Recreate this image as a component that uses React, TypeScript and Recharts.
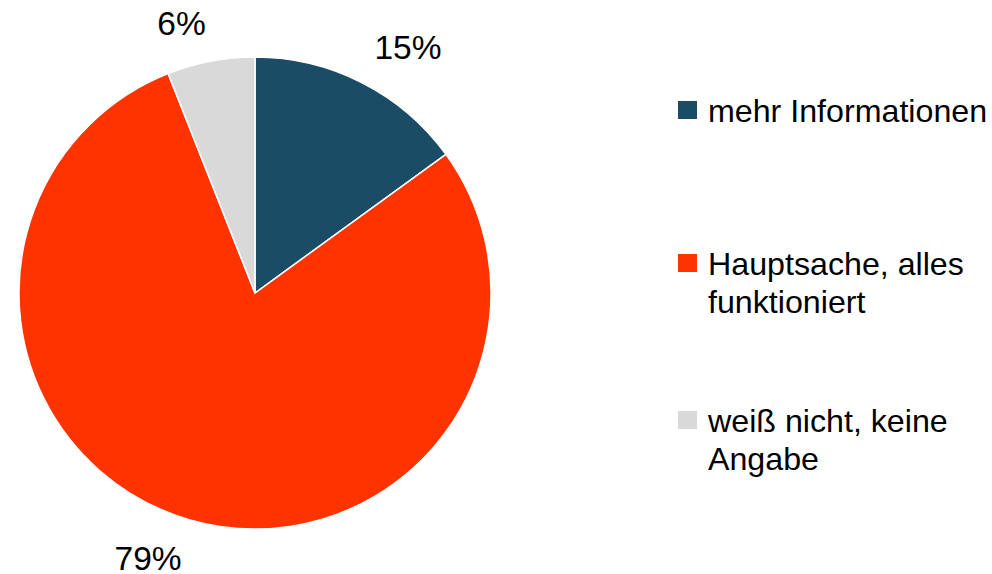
import React from "react";
import { PieChart, Pie, Cell, Legend } from "recharts";

const categories = ["mehr Informationen", "Hauptsache, alles funktioniert", "weiß nicht, keine Angabe"];
const values = [15, 79, 6];
const colors = ["#1b4c66", "#ff3300", "#d9d9d9"];
const itemMarginTops = [0, 115, 81];

const data = categories.map((name, i) => ({ name, value: values[i] }));

const RAD = Math.PI / 180;
const LABEL_FONT = 33.5;

const renderLabel = (props: any) => {
  const { cx, cy, midAngle, outerRadius, value } = props;
  const r = outerRadius + 27;
  const x = cx + r * Math.cos(-midAngle * RAD);
  const y = cy + r * Math.sin(-midAngle * RAD);
  const anchor = x >= cx ? "start" : "end";
  const baseline = y <= cy ? y : y + LABEL_FONT * 0.716;
  return (
    <text
      x={x}
      y={baseline}
      textAnchor={anchor}
      fill="#000"
      fontSize={LABEL_FONT}
      fontFamily="Liberation Sans, Arial, sans-serif"
    >
      {value}%
    </text>
  );
};

const renderLegend = () => {
  return (
    <div style={{ display: "flex", flexDirection: "column", fontFamily: "Liberation Sans, Arial, sans-serif" }}>
      {categories.map((name, i) => (
        <div key={name} style={{ display: "flex", alignItems: "flex-start", marginTop: itemMarginTops[i] }}>
          <div style={{ width: 19, height: 18, background: colors[i], marginTop: 9, flex: "0 0 auto" }} />
          <div style={{ marginLeft: 11, width: 282, fontSize: 32.2, lineHeight: "38px", color: "#000" }}>
            {name}
          </div>
        </div>
      ))}
    </div>
  );
};

export default function App() {
  return (
    <div style={{ position: "absolute", left: 0, top: 0, background: "#fff" }}>
      <PieChart width={992} height={574} margin={{ top: 0, right: 0, bottom: 0, left: 0 }}>
        <Pie
          data={data}
          dataKey="value"
          nameKey="name"
          cx={255}
          cy={293}
          outerRadius={236}
          startAngle={90}
          endAngle={-270}
          stroke="#fff"
          strokeWidth={1.5}
          label={renderLabel}
          labelLine={false}
          isAnimationActive={false}
        >
          {data.map((d, i) => (
            <Cell key={d.name} fill={colors[i]} />
          ))}
        </Pie>
        <Legend
          content={renderLegend}
          layout="vertical"
          wrapperStyle={{ position: "absolute", left: 678, top: 92, width: 314 }}
        />
      </PieChart>
    </div>
  );
}
